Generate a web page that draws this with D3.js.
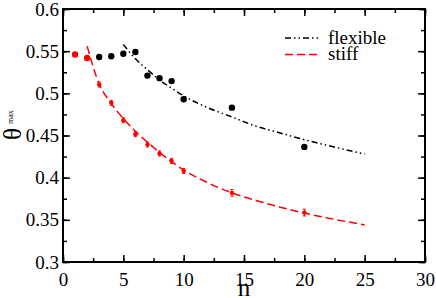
<!DOCTYPE html>
<html>
<head>
<meta charset="utf-8">
<script src="https://cdn.jsdelivr.net/npm/d3@7"></script>
<style>
  body { margin: 0; background: #fff; }
  svg text { font-family: "Liberation Serif", "Times New Roman", "DejaVu Serif", serif !important; }
</style>
</head>
<body>
<div id="chart"></div>
<script>
// data
var flexN = [3, 4, 5, 6, 7, 8, 9, 10, 14, 20];
var flexTheta = [0.543, 0.544, 0.547, 0.549, 0.521, 0.518, 0.5145, 0.493, 0.483, 0.4365];
var flexFitN = [5, 6, 7, 8, 9, 10, 12, 14, 16, 18, 20, 22, 25];
var flexFitTheta = [0.558, 0.541, 0.528, 0.516, 0.506, 0.497, 0.483, 0.472, 0.461, 0.453, 0.445, 0.438, 0.428];

var stiffN = [1, 2, 3, 4, 5, 6, 7, 8, 9, 10, 14, 20];
var stiffTheta = [0.546, 0.542, 0.5105, 0.4888, 0.4682, 0.4516, 0.4394, 0.4287, 0.4199, 0.408, 0.382, 0.3586];
var stiffErr = [0, 0, 0.003, 0.003, 0.003, 0.003, 0.003, 0.003, 0.003, 0.003, 0.004, 0.004];
var stiffFitN = [2, 3, 4, 5, 6, 7, 8, 9, 10, 12, 14, 16, 18, 20, 22, 25];
var stiffFitTheta = [0.556, 0.511, 0.488, 0.470, 0.455, 0.442, 0.430, 0.419, 0.409, 0.394, 0.382, 0.373, 0.365, 0.358, 0.352, 0.344];

var xTicks = [0, 5, 10, 15, 20, 25, 30];
var yTicks = [0.3, 0.35, 0.4, 0.45, 0.5, 0.55, 0.6];

var margin = {top: 9, right: 11, bottom: 36, left: 63},
    width = 436 - margin.left - margin.right,
    height = 298 - margin.top - margin.bottom;

var x = d3.scaleLinear().domain([0, 30]).range([0, width]);
var y = d3.scaleLinear().domain([0.3, 0.6]).range([height, 0]);

var svg = d3.select("#chart").append("svg")
    .attr("width", 436)
    .attr("height", 298)
    .attr("font-family", "'Liberation Serif', serif");

var g = svg.append("g")
    .attr("transform", "translate(" + margin.left + "," + margin.top + ")");

// ticks pointing inward on all four sides
var xMinor = d3.range(0, 30.01, 2.5), yMinor = d3.range(0.3, 0.6001, 0.025);

function noDomain(a) { a.select(".domain").remove(); a.attr("font-family", null).attr("font-size", null); }

g.append("g")
    .attr("transform", "translate(0," + height + ")")
    .call(d3.axisBottom(x).tickValues(xMinor).tickSize(-4).tickFormat(""))
    .call(noDomain);
g.append("g")
    .attr("transform", "translate(0," + height + ")")
    .call(d3.axisBottom(x).tickValues(xTicks).tickSize(-7).tickPadding(11).tickFormat(d3.format("d")))
    .call(noDomain);
g.append("g")
    .call(d3.axisTop(x).tickValues(xMinor).tickSize(-4).tickFormat(""))
    .call(noDomain);
g.append("g")
    .call(d3.axisTop(x).tickValues(xTicks).tickSize(-7).tickFormat(""))
    .call(noDomain);

g.append("g")
    .call(d3.axisLeft(y).tickValues(yMinor).tickSize(-4).tickFormat(""))
    .call(noDomain);
g.append("g")
    .call(d3.axisLeft(y).tickValues(yTicks).tickSize(-7).tickPadding(4).tickFormat(function(d) { return +d.toFixed(2) + ""; }))
    .call(noDomain);
g.append("g")
    .attr("transform", "translate(" + width + ",0)")
    .call(d3.axisRight(y).tickValues(yMinor).tickSize(-4).tickFormat(""))
    .call(noDomain);
g.append("g")
    .attr("transform", "translate(" + width + ",0)")
    .call(d3.axisRight(y).tickValues(yTicks).tickSize(-7).tickFormat(""))
    .call(noDomain);

g.selectAll(".tick line").attr("stroke", "#000").attr("stroke-width", 1.5);
g.selectAll(".tick text").attr("fill", "#000").attr("font-size", "19px");

g.append("rect")
    .attr("width", width)
    .attr("height", height)
    .attr("fill", "none")
    .attr("stroke", "#000")
    .attr("stroke-width", 2);

var line = d3.line()
    .x(function(d) { return x(d[0]); })
    .y(function(d) { return y(d[1]); })
    .curve(d3.curveMonotoneX);

// fit curves
g.append("path")
    .datum(d3.zip(flexFitN, flexFitTheta))
    .attr("d", line)
    .attr("fill", "none")
    .attr("stroke", "#000")
    .attr("stroke-width", 1.5)
    .attr("stroke-dasharray", "6,3,1.5,3,1.5,3");

g.append("path")
    .datum(d3.zip(stiffFitN, stiffFitTheta))
    .attr("d", line)
    .attr("fill", "none")
    .attr("stroke", "#ff0000")
    .attr("stroke-width", 1.5)
    .attr("stroke-dasharray", "8,4");

// stiff points with small error bars
var stiff = d3.zip(stiffN, stiffTheta, stiffErr);
g.selectAll(".err")
    .data(stiff.filter(function(d) { return d[2] > 0; }))
    .enter().append("path")
    .attr("class", "err")
    .attr("stroke", "#ff0000")
    .attr("stroke-width", 1)
    .attr("d", function(d) {
      var cx = x(d[0]), y0 = y(d[1] - d[2]), y1 = y(d[1] + d[2]);
      return "M" + cx + "," + y0 + "V" + y1 +
             "M" + (cx - 1.5) + "," + y0 + "H" + (cx + 1.5) +
             "M" + (cx - 1.5) + "," + y1 + "H" + (cx + 1.5);
    });

g.selectAll(".stiff")
    .data(stiff)
    .enter().append("circle")
    .attr("class", "stiff")
    .attr("cx", function(d) { return x(d[0]); })
    .attr("cy", function(d) { return y(d[1]); })
    .attr("r", function(d) { return d[2] > 0 ? 2.2 : 3.2; })
    .attr("fill", "#ff0000");

g.selectAll(".flex")
    .data(d3.zip(flexN, flexTheta))
    .enter().append("circle")
    .attr("class", "flex")
    .attr("cx", function(d) { return x(d[0]); })
    .attr("cy", function(d) { return y(d[1]); })
    .attr("r", 3.2)
    .attr("fill", "#000");

// legend
var legend = svg.append("g");
legend.append("line")
    .attr("x1", 285).attr("x2", 321).attr("y1", 38).attr("y2", 38)
    .attr("stroke", "#000").attr("stroke-width", 1.5)
    .attr("stroke-dasharray", "6,3,1.5,3,1.5,3");
legend.append("line")
    .attr("x1", 285).attr("x2", 321).attr("y1", 54.5).attr("y2", 54.5)
    .attr("stroke", "#ff0000").attr("stroke-width", 1.5)
    .attr("stroke-dasharray", "8,4");
legend.append("text").attr("x", 328).attr("y", 43.5).attr("font-size", "19px").text("flexible");
legend.append("text").attr("x", 328).attr("y", 60).attr("font-size", "19px").text("stiff");

// axis titles
svg.append("text")
    .attr("x", margin.left + width / 2)
    .attr("y", 296)
    .attr("text-anchor", "middle")
    .attr("font-size", "25px")
    .text("n");

svg.append("text")
    .attr("transform", "translate(21,140) rotate(-90)")
    .attr("font-size", "25px")
    .text("θ");
svg.append("text")
    .attr("transform", "translate(13,124) rotate(-90)")
    .attr("font-size", "8px")
    .text("max");
</script>
</body>
</html>
